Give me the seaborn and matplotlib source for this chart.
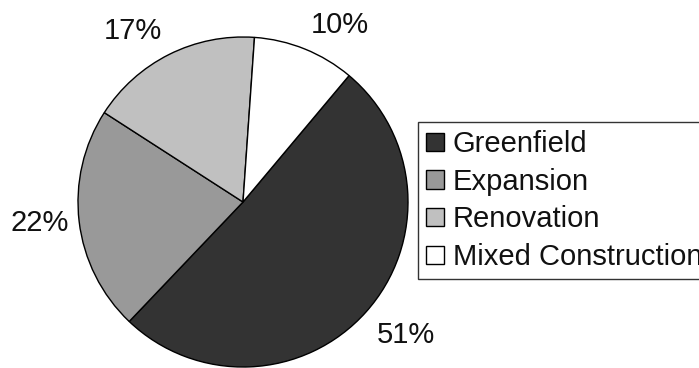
import numpy as np
import matplotlib
matplotlib.use("Agg")
import matplotlib.pyplot as plt
import seaborn as sns

# Project share by construction type
categories = ["Greenfield", "Expansion", "Renovation", "Mixed Construction"]
shares = [51, 22, 17, 10]
colors = ["#333333", "#999999", "#c0c0c0", "#ffffff"]

sns.set_theme(style="white")
plt.rcParams["font.family"] = ["Liberation Sans", "DejaVu Sans"]

W, H = 699, 368
CX, CY, R = 243, 166, 165

fig = plt.figure(figsize=(W / 100, H / 100), dpi=100)
ax = fig.add_axes([0, 0, 1, 1])

wedges, texts, autotexts = ax.pie(
    shares,
    colors=colors,
    startangle=50,
    counterclock=False,
    center=(CX, CY),
    radius=R,
    autopct=lambda p: f"{p:.0f}%",
    wedgeprops=dict(edgecolor="black", linewidth=1.0),
    textprops=dict(fontsize=21, color="#111111"),
    frame=True,
)
ax.set_xlim(0, W)
ax.set_ylim(0, H)
ax.set_aspect("equal")
ax.axis("off")

# Outside-end labels: the corner of each label nearest the pie sits on a
# ring just outside the rim, along the wedge's bisector.
for w, t in zip(wedges, autotexts):
    mid = np.deg2rad((w.theta1 + w.theta2) / 2)
    c, s = np.cos(mid), np.sin(mid)
    if s > 0.35:
        va, gap = "baseline", 17
    elif s < -0.35:
        va, gap = "top", 14
    else:
        va, gap = "center", 10
    t.set_position((CX + (R + gap) * c, CY + (R + gap) * s))
    t.set_ha("left" if c > 0 else "right")
    t.set_va(va)

leg = ax.legend(
    wedges,
    categories,
    loc="upper left",
    bbox_to_anchor=(418 / W, 1 - 122 / H),
    bbox_transform=fig.transFigure,
    borderaxespad=0,
    borderpad=0.28,
    fontsize=21,
    handlelength=0.62,
    handleheight=0.6,
    handletextpad=0.3,
    labelspacing=0.33,
    fancybox=False,
    frameon=True,
)
leg.get_frame().set_edgecolor("black")
leg.get_frame().set_linewidth(1.0)
for t in leg.get_texts():
    t.set_color("#111111")

fig.savefig("out.png", dpi=100)
